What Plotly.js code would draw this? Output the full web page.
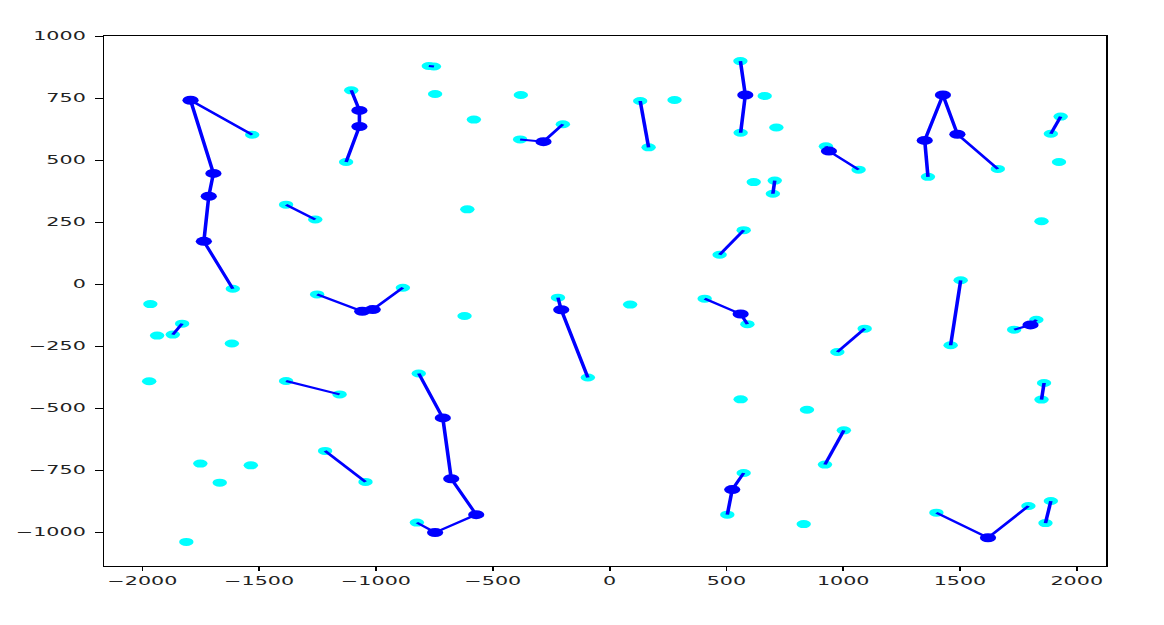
<!DOCTYPE html>
<html><head><meta charset="utf-8">
<script src="https://cdn.plot.ly/plotly-3.0.1.min.js"></script>
<style>
html,body{margin:0;padding:0;background:#fff;overflow:hidden;}
#wrap{width:1164px;height:625px;overflow:hidden;}
#chart{width:647px;height:625px;transform:scaleX(1.7991);transform-origin:0 0;}
</style></head><body><div id="wrap"><div id="chart"></div></div>
<script>
// Terminal points (cyan)
const terminalX = [-1530,-1613,-1870,-1830,-1385,-1260,-1385,-1156,-1106,-1128,-774,-752,-383,-200,-1252,-885,-221,-93,-817,-825,-1218,-1045,
  560,561,131,167,926,1066,707,699,574,471,407,590,1092,975,1003,922,574,504,1363,1662,1931,1889,1503,1460,1732,1827,1860,1849,1399,1793,1889,1866,
  -1966,-1937,-1617,-1971,-1752,-1536,-1669,-1812,-747,-380,-581,-609,-621,88,278,664,714,617,561,845,831,1924,1849];
const terminalY = [602,-19,-204,-160,320,260,-391,-445,781,492,879,877,583,644,-42,-15,-55,-377,-361,-962,-673,-798,
  899,610,738,551,555,461,417,364,217,118,-59,-162,-180,-274,-590,-728,-762,-930,432,464,675,606,15,-247,-184,-144,-399,-466,-922,-895,-875,-964,
  -81,-208,-240,-392,-724,-731,-801,-1040,766,762,663,301,-129,-83,742,758,631,411,-465,-507,-968,492,253];

// Steiner points (blue)
const steinerX = [-1794,-1696,-1716,-1737,-1071,-1071,-283,-1059,-1014,-207,-714,-678,-571,-747,581,939,561,525,1427,1349,1489,1802,1620];
const steinerY = [741,446,354,172,700,635,574,-110,-103,-104,-540,-785,-930,-1002,762,536,-121,-829,762,579,604,-165,-1023];

// Edge polylines
const pathsX = [
  [-1530,-1794,-1696,-1716,-1737,-1613],[-1870,-1830],[-1385,-1260],[-1385,-1156],[-1106,-1071,-1071,-1128],
  [-774,-752],[-383,-283,-200],[-1252,-1059,-1014,-885],[-221,-207,-93],[-817,-714,-678,-571,-747,-825],
  [-1218,-1045],[560,581,561],[131,167],[926,939,1066],[707,699],[574,471],[407,561,590],[1092,975],
  [1003,922],[574,525,504],[1363,1349,1427,1489,1662],[1931,1889],[1503,1460],[1732,1802,1827],
  [1860,1849],[1399,1620,1793],[1889,1866]];
const pathsY = [
  [602,741,446,354,172,-19],[-204,-160],[320,260],[-391,-445],[781,700,635,492],
  [879,877],[583,574,644],[-42,-110,-103,-15],[-55,-104,-377],[-361,-540,-785,-930,-1002,-962],
  [-673,-798],[899,762,610],[738,551],[555,536,461],[417,364],[217,118],[-59,-121,-162],[-180,-274],
  [-590,-728],[-762,-829,-930],[432,579,762,604,464],[675,606],[15,-247],[-184,-165,-144],
  [-399,-466],[-922,-1023,-895],[-875,-964]];

const xTicks = [-2000,-1500,-1000,-500,0,500,1000,1500,2000];
const yTicks = [-1000,-750,-500,-250,0,250,500,750,1000];

const lx = [], ly = [];
pathsX.forEach((p,i)=>{ p.forEach((v,j)=>{ lx.push(v); ly.push(pathsY[i][j]); }); lx.push(null); ly.push(null); });

const fmt = v => (v<0 ? '\u2212' + Math.abs(v) : String(v));

const traces = [
  {x: terminalX, y: terminalY, mode:'markers', type:'scatter', marker:{color:'#00FFFF', size:8, line:{width:0}}, hoverinfo:'none'},
  {x: lx, y: ly, mode:'lines', type:'scatter', line:{color:'#0000FF', width:2}, connectgaps:false, hoverinfo:'none'},
  {x: steinerX, y: steinerY, mode:'markers', type:'scatter', marker:{color:'#0000FF', size:9, line:{width:0}}, hoverinfo:'none'}
];

const axisCommon = {showgrid:false, zeroline:false, showline:true, mirror:true, linecolor:'#000', linewidth:1,
  ticks:'outside', ticklen:4, tickwidth:1, tickcolor:'#000', tickmode:'array',
  tickfont:{family:'DejaVu Sans', size:11.5, color:'#222'}};

const layout = {
  width:647, height:625,
  margin:{l:58.4, r:31.9, t:36, b:59.3, pad:0},
  showlegend:false,
  paper_bgcolor:'#fff', plot_bgcolor:'#fff',
  xaxis: Object.assign({}, axisCommon, {range:[-2163,2127], tickvals:xTicks, ticktext:xTicks.map(fmt)}),
  yaxis: Object.assign({}, axisCommon, {range:[-1137,1000], tickvals:yTicks, ticktext:yTicks.map(fmt), ticklabelstandoff:3})
};

Plotly.newPlot('chart', traces, layout, {displayModeBar:false, staticPlot:true});
</script></body></html>
